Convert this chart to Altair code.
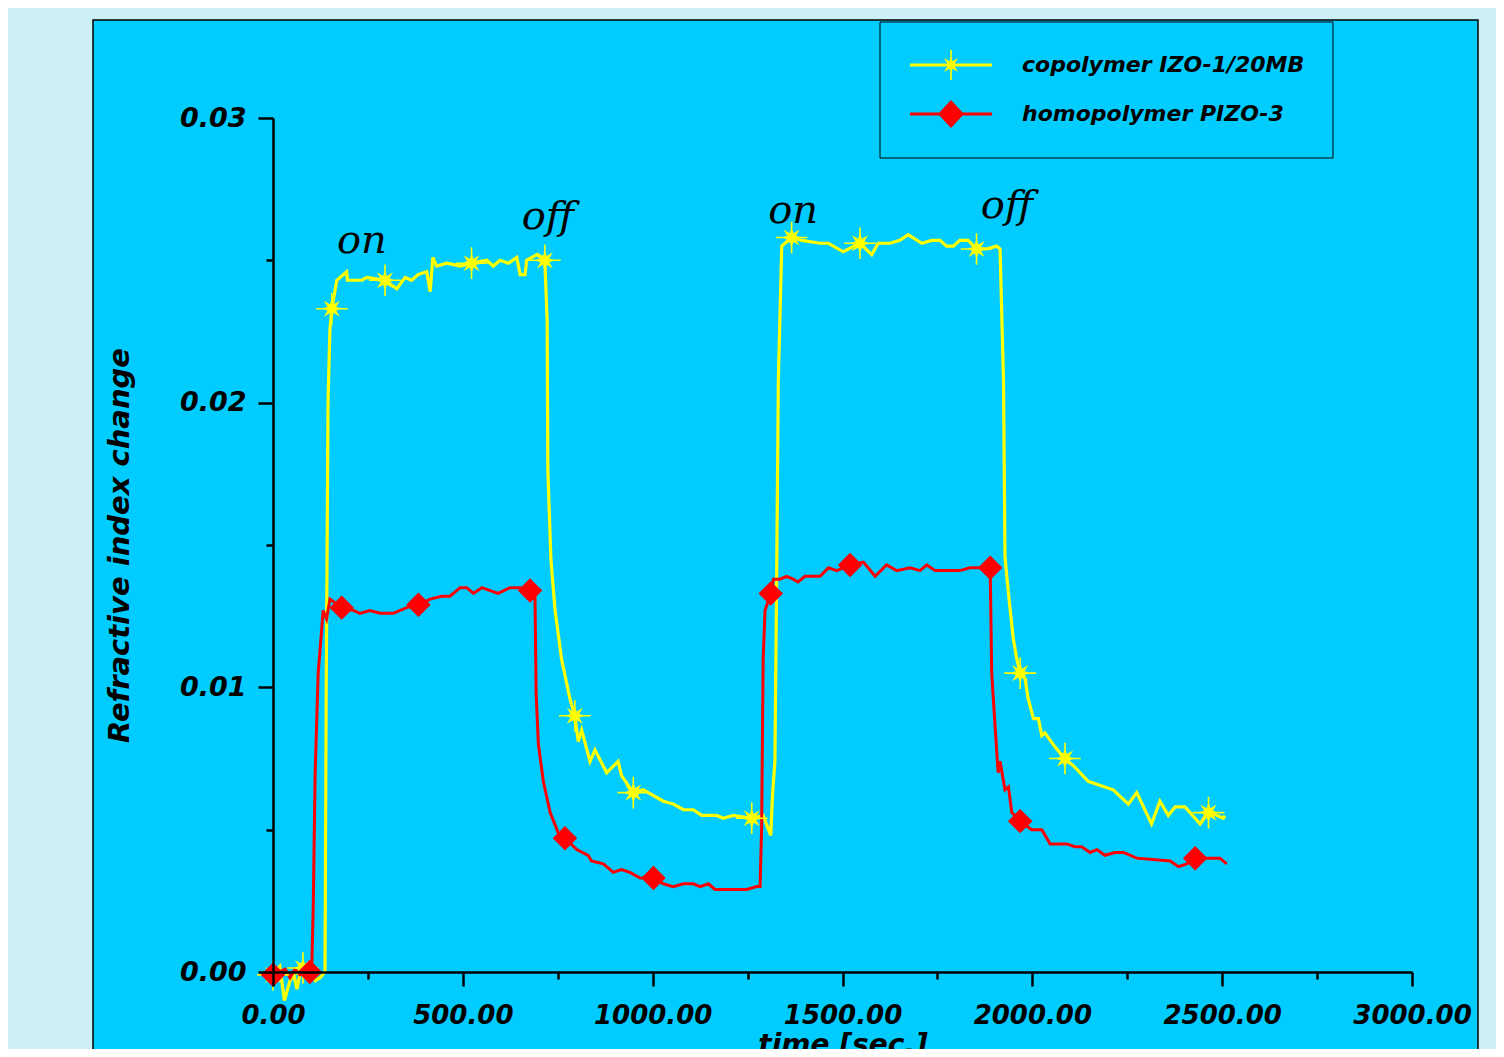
import math
import altair as alt
import pandas as pd

# ---------------- data ----------------
series_names = ["copolymer IZO-1/20MB", "homopolymer PIZO-3"]

yellow_t = [0, 18, 30, 45, 55, 63, 75, 84, 100, 112, 124, 137, 140, 145, 150, 155, 168, 194, 196, 220, 234, 247, 295, 326, 348, 365, 382, 405, 414, 421, 431, 458, 493, 523, 563, 580, 598, 620, 642, 651, 664, 668, 695, 716, 722, 724, 732, 743, 760, 782, 795, 804, 813, 835, 848, 879, 909, 918, 949, 975, 1028, 1054, 1081, 1107, 1129, 1169, 1186, 1212, 1261, 1291, 1311, 1316, 1322, 1327, 1331, 1340, 1366, 1393, 1441, 1463, 1502, 1546, 1577, 1594, 1625, 1651, 1673, 1709, 1735, 1757, 1774, 1792, 1809, 1831, 1853, 1880, 1906, 1915, 1924, 1928, 1932, 1941, 1950, 1959, 1968, 1981, 1989, 2003, 2016, 2025, 2033, 2060, 2086, 2112, 2147, 2213, 2253, 2275, 2314, 2336, 2358, 2376, 2402, 2442, 2464, 2486, 2503, 2507]
yellow_v = [-0.0001, 0.0002, -0.0010, -0.0003, -0.0001, -0.0006, 0.0002, 0.0000, 0.0002, -0.0003, -0.0002, 0.0000, 0.0096, 0.0201, 0.0226, 0.0233, 0.0243, 0.0246, 0.0243, 0.0243, 0.0243, 0.0244, 0.0243, 0.0240, 0.0244, 0.0243, 0.0245, 0.0246, 0.0239, 0.0251, 0.0248, 0.0249, 0.0248, 0.0249, 0.0250, 0.0248, 0.0250, 0.0249, 0.0251, 0.0245, 0.0245, 0.0250, 0.0252, 0.0250, 0.0229, 0.0176, 0.0145, 0.0127, 0.0110, 0.0096, 0.0090, 0.0081, 0.0085, 0.0074, 0.0078, 0.0070, 0.0074, 0.0069, 0.0063, 0.0064, 0.0060, 0.0059, 0.0057, 0.0057, 0.0055, 0.0055, 0.0054, 0.0055, 0.0054, 0.0055, 0.0048, 0.0063, 0.0074, 0.0145, 0.0208, 0.0255, 0.0258, 0.0257, 0.0256, 0.0256, 0.0253, 0.0256, 0.0252, 0.0256, 0.0256, 0.0257, 0.0259, 0.0256, 0.0257, 0.0257, 0.0255, 0.0255, 0.0257, 0.0257, 0.0254, 0.0254, 0.0255, 0.0254, 0.0208, 0.0146, 0.0140, 0.0128, 0.0117, 0.0110, 0.0105, 0.0103, 0.0096, 0.0089, 0.0089, 0.0083, 0.0084, 0.0079, 0.0075, 0.0072, 0.0067, 0.0064, 0.0059, 0.0063, 0.0052, 0.0060, 0.0055, 0.0058, 0.0058, 0.0052, 0.0056, 0.0055, 0.0054, 0.0055]

red_t = [0, 32, 45, 58, 71, 97, 102, 106, 111, 119, 128, 132, 141, 150, 181, 212, 229, 255, 282, 317, 352, 383, 414, 444, 466, 493, 510, 528, 550, 572, 593, 624, 650, 677, 690, 693, 699, 712, 730, 751, 769, 800, 830, 839, 870, 888, 896, 918, 940, 967, 1002, 1028, 1054, 1081, 1107, 1125, 1147, 1164, 1204, 1221, 1248, 1274, 1283, 1287, 1291, 1296, 1311, 1318, 1335, 1353, 1370, 1383, 1401, 1441, 1463, 1485, 1520, 1555, 1586, 1616, 1643, 1678, 1704, 1722, 1744, 1809, 1836, 1862, 1889, 1893, 1902, 1910, 1915, 1928, 1937, 1946, 1968, 1998, 2025, 2047, 2091, 2112, 2130, 2152, 2170, 2191, 2218, 2240, 2275, 2363, 2385, 2407, 2429, 2459, 2494, 2512]
red_v = [-0.0001, 0.0001, -0.0002, 0.0001, -0.0001, 0.0000, 0.0001, 0.0023, 0.0070, 0.0105, 0.0120, 0.0127, 0.0124, 0.0131, 0.0128, 0.0127, 0.0126, 0.0127, 0.0126, 0.0126, 0.0128, 0.0129, 0.0131, 0.0132, 0.0132, 0.0135, 0.0135, 0.0133, 0.0135, 0.0134, 0.0133, 0.0135, 0.0135, 0.0134, 0.0133, 0.0098, 0.0080, 0.0067, 0.0056, 0.0049, 0.0047, 0.0043, 0.0041, 0.0039, 0.0038, 0.0036, 0.0035, 0.0036, 0.0035, 0.0033, 0.0033, 0.0031, 0.0030, 0.0031, 0.0031, 0.0030, 0.0031, 0.0029, 0.0029, 0.0029, 0.0029, 0.0030, 0.0030, 0.0051, 0.0110, 0.0127, 0.0133, 0.0138, 0.0138, 0.0139, 0.0138, 0.0137, 0.0139, 0.0139, 0.0142, 0.0141, 0.0143, 0.0144, 0.0139, 0.0143, 0.0141, 0.0142, 0.0141, 0.0143, 0.0141, 0.0141, 0.0142, 0.0142, 0.0142, 0.0105, 0.0086, 0.0070, 0.0074, 0.0064, 0.0065, 0.0056, 0.0053, 0.0050, 0.0050, 0.0045, 0.0045, 0.0044, 0.0044, 0.0042, 0.0043, 0.0041, 0.0042, 0.0042, 0.0040, 0.0039, 0.0037, 0.0038, 0.0040, 0.0040, 0.0040, 0.0038]

yellow_marker_t = [0, 79, 155, 295, 523, 716, 795, 949, 1261, 1366, 1546, 1853, 1968, 2086, 2464]
yellow_marker_v = [-0.0001, 0.00014, 0.0233, 0.0243, 0.0249, 0.0250, 0.0090, 0.0063, 0.0054, 0.0258, 0.0256, 0.0254, 0.0105, 0.0075, 0.0056]
red_marker_t = [0, 97, 181, 383, 677, 769, 1002, 1311, 1520, 1889, 1968, 2429]
red_marker_v = [-0.0001, 0.0, 0.0128, 0.0129, 0.0134, 0.0047, 0.0033, 0.0133, 0.0143, 0.0142, 0.0053, 0.0040]

annot_labels = ["on", "off", "on", "off"]
annot_t = [234, 724, 1370, 1933]
annot_v = [0.02525, 0.0261, 0.0263, 0.0265]

x_major = [0, 500, 1000, 1500, 2000, 2500, 3000]
x_minor = [250, 750, 1250, 1750, 2250, 2750]
y_major = [0.0, 0.01, 0.02, 0.03]
y_minor = [0.005, 0.015, 0.025]

# ---------------- styling ----------------
YELLOW = "#FFFF00"
RED = "#FF0000"
PANEL = "#00CCFF"
PAGE = "#CDF0F7"
FONT = "DejaVu Sans"


def star(cx, cy, outer, inner, n=8):
    pts = []
    for k in range(2 * n):
        a = -math.pi / 2 + k * math.pi / n
        r = outer if k % 2 == 0 else inner
        pts.append((cx + r * math.cos(a), cy + r * math.sin(a)))
    return "M" + "L".join(f"{x:.3f},{y:.3f}" for x, y in pts) + "Z"


def box(x0, y0, x1, y1):
    return f"M{x0:.3f},{y0:.3f}L{x1:.3f},{y0:.3f}L{x1:.3f},{y1:.3f}L{x0:.3f},{y1:.3f}Z"


star_marker = star(0, 0, 0.72, 0.30) + box(-0.05, -1, 0.05, 1) + box(-1, -0.05, 1, 0.05)

# legend glyphs: unit = sqrt(size)/2 px
LEG_K = 34.0          # px per path unit
LEG_SIZE = (2 * LEG_K) ** 2
half_len = 41 / LEG_K
lw = 1.6 / LEG_K
legend_star = (box(-half_len, -lw, half_len, lw)
               + star(0, 0, 10 / LEG_K, 4 / LEG_K)
               + box(-0.8 / LEG_K, -15 / LEG_K, 0.8 / LEG_K, 15 / LEG_K))
legend_diamond = (box(-half_len, -lw, half_len, lw)
                  + f"M{-13 / LEG_K:.3f},0L0,{-14 / LEG_K:.3f}L{13 / LEG_K:.3f},0L0,{14 / LEG_K:.3f}Z")

yellow_df = pd.DataFrame({"t": yellow_t, "v": yellow_v})
red_df = pd.DataFrame({"t": red_t, "v": red_v})
ym_df = pd.DataFrame({"t": yellow_marker_t, "v": yellow_marker_v})
rm_df = pd.DataFrame({"t": red_marker_t, "v": red_marker_v})
ann_df = pd.DataFrame({"label": annot_labels, "t": annot_t, "v": annot_v})
leg_df = pd.DataFrame({"series": series_names})

xs = alt.Scale(domain=[0, 3000], nice=False, zero=False)
ys = alt.Scale(domain=[0, 0.03], nice=False, zero=False)

axis_common = dict(
    grid=False, domainColor="black", tickColor="black", labelColor="black",
    tickWidth=2.5, labelFont=FONT, labelFontWeight="bold", labelFontStyle="italic",
    labelFlush=False, labelOverlap=False,
    titleFont=FONT, titleFontWeight="bold", titleFontStyle="italic",
    titleColor="black", zindex=2,
)

x_main = alt.Axis(values=x_major, format=".2f", orient="bottom", tickSize=14,
                  domainWidth=2.5, labelPadding=16, labelFontSize=26, title="time [sec.]",
                  titleFontSize=28, titlePadding=3, **axis_common)
y_main = alt.Axis(values=y_major, format=".2f", orient="left", tickSize=15,
                  domainWidth=2.5, labelPadding=12, labelFontSize=27,
                  title="Refractive index change",
                  titleFontSize=29, titlePadding=45, **axis_common)
x_min = alt.Axis(values=x_minor, orient="bottom", tickSize=7, labels=False,
                 domain=False, grid=False, tickColor="black", tickWidth=2.5,
                 title=None, zindex=2)
y_min = alt.Axis(values=y_minor, orient="left", tickSize=7, labels=False,
                 domain=False, grid=False, tickColor="black", tickWidth=2.5,
                 title=None, zindex=2)

panel = alt.Chart(pd.DataFrame({"p": [0]})).mark_rect(
    fill=PANEL, stroke="black", strokeWidth=1.5
).encode(x=alt.value(-180), x2=alt.value(1205), y=alt.value(-98), y2=alt.value(1100))

legend_box = alt.Chart(pd.DataFrame({"p": [0]})).mark_rect(
    fill=PANEL, stroke="black", strokeWidth=1
).encode(x=alt.value(607), x2=alt.value(1060), y=alt.value(-96), y2=alt.value(40))

yellow_line = alt.Chart(yellow_df).mark_line(color=YELLOW, strokeWidth=3.2).encode(
    x=alt.X("t:Q", scale=xs, axis=x_main), y=alt.Y("v:Q", scale=ys, axis=y_main)
)
red_line = alt.Chart(red_df).mark_line(color=RED, strokeWidth=3).encode(
    x=alt.X("t:Q", scale=xs, axis=x_min), y=alt.Y("v:Q", scale=ys, axis=y_min)
)
yellow_pts = alt.Chart(ym_df).mark_point(
    shape=star_marker, filled=True, color=YELLOW, size=1000, opacity=1, strokeWidth=0
).encode(x=alt.X("t:Q", scale=xs, axis=None), y=alt.Y("v:Q", scale=ys, axis=None))
red_pts = alt.Chart(rm_df).mark_point(
    shape="diamond", filled=True, color=RED, size=600, opacity=1, strokeWidth=0
).encode(x=alt.X("t:Q", scale=xs, axis=None), y=alt.Y("v:Q", scale=ys, axis=None))

annots = alt.Chart(ann_df).mark_text(
    font="DejaVu Serif", fontStyle="italic", fontSize=40, color="black",
    align="center", baseline="alphabetic"
).encode(x=alt.X("t:Q", scale=xs, axis=None), y=alt.Y("v:Q", scale=ys, axis=None), text="label:N")

leg = alt.Legend(
    title=None, orient="none", legendX=644, legendY=-87, padding=0,
    symbolSize=LEG_SIZE, symbolStrokeWidth=0,
    symbolOpacity=1, labelFont=FONT, labelFontWeight="bold", labelFontStyle="italic",
    labelFontSize=22, labelColor="black", labelOffset=37, labelLimit=500, rowPadding=0,
)
legend_layer = alt.Chart(leg_df).transform_filter("false").mark_point(
    filled=True, opacity=1, size=LEG_SIZE
).encode(
    color=alt.Color("series:N", scale=alt.Scale(domain=series_names, range=[YELLOW, RED]), legend=leg),
    shape=alt.Shape("series:N", scale=alt.Scale(domain=series_names, range=[legend_star, legend_diamond]), legend=leg),
)

chart = alt.layer(
    panel, legend_box, yellow_line, red_line, yellow_pts, red_pts, annots, legend_layer
).resolve_axis(x="independent", y="independent").properties(
    width=1139, height=854,
    autosize=alt.AutoSizeParams(type="none"),
    padding={"left": 265, "top": 110, "right": 84, "bottom": 77},
    background=PAGE,
).configure_view(strokeWidth=0)

chart.save("out.html", embed_options={"renderer": "svg", "actions": False})
